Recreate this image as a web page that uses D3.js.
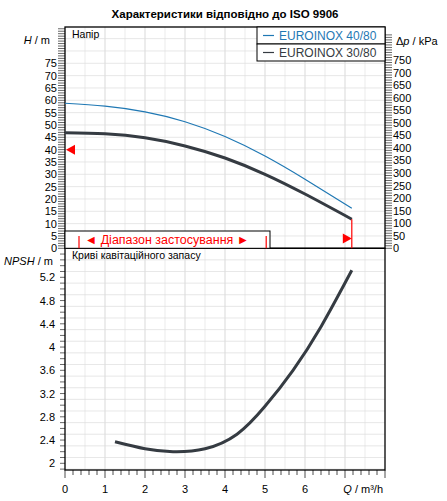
<!DOCTYPE html>
<html><head><meta charset="utf-8">
<script src="https://cdn.jsdelivr.net/npm/d3@7"></script>
<style>body{margin:0;background:#fff}text{font-family:Arial,"Liberation Sans",sans-serif}</style>
</head><body><div id="chart"></div>
<script>
// Curve data
const q40 = [0, 1, 2, 3, 4, 5, 6, 7.17];
const h40 = [58.8, 57.6, 55.3, 51.3, 45.3, 37.4, 28, 16.2];
const q30 = [0, 1, 2, 3, 4, 5, 6, 7.17];
const h30 = [46.8, 46.4, 44.8, 41.5, 36.6, 30, 22, 11.8];
const qNpsh = [1.25, 2, 2.7, 3.5, 4.3, 5, 5.7, 6.4, 7.17];
const npsh = [2.37, 2.25, 2.2, 2.25, 2.5, 2.98, 3.6, 4.35, 5.32];
const seriesNames = ["EUROINOX 40/80", "EUROINOX 30/80"];
const qTicks = [0, 1, 2, 3, 4, 5, 6];
const hTicks = d3.range(0, 80, 5);
const pTicks = d3.range(0, 800, 50);
const npshTicks = [2, 2.4, 2.8, 3.2, 3.6, 4, 4.4, 4.8, 5.2];
const qMax = 7.17;

const W = 447, Hh = 501;
const svg = d3.select("#chart").append("svg").attr("width", W).attr("height", Hh);

const x = d3.scaleLinear().domain([0, 8]).range([65, 385]);
const yH = d3.scaleLinear().domain([0, 75]).range([248.3, 63.3]);
const yP = d3.scaleLinear().domain([0, 750]).range([248.3, 60]);
const yN = d3.scaleLinear().domain([2, 5.2]).range([463.3, 277.3]);
const top1 = 27, bot1 = 248.3, bot2 = 470;

svg.append("text").attr("x", 225).attr("y", 18).attr("text-anchor", "middle")
  .attr("font-weight", "bold").attr("font-size", 11.5).text("Характеристики відповідно до ISO 9906");

// grid
const g = svg.append("g").attr("stroke", "#ddd").attr("stroke-width", 0.7);
d3.range(0.5, 8, 0.5).forEach(v => g.append("line").attr("x1", x(v)).attr("x2", x(v)).attr("y1", top1).attr("y2", bot2)
  .attr("stroke", v % 1 === 0 ? "#c8c8c8" : "#e2e2e2"));
d3.range(5, 90, 5).forEach(v => { if (yH(v) > top1) g.append("line").attr("x1", 65).attr("x2", 385).attr("y1", yH(v)).attr("y2", yH(v)); });
d3.range(1.9, 5.7, 0.2).forEach(v => { const yy = yN(v); if (yy > bot1 + 1 && yy < bot2) g.append("line").attr("x1", 65).attr("x2", 385).attr("y1", yy).attr("y2", yy); });

// frames
svg.append("rect").attr("x", 65).attr("y", top1).attr("width", 320).attr("height", bot1 - top1).attr("fill", "none").attr("stroke", "#000").attr("stroke-width", 1.3);
svg.append("rect").attr("x", 65).attr("y", bot1).attr("width", 320).attr("height", bot2 - bot1).attr("fill", "none").attr("stroke", "#000").attr("stroke-width", 1.3);

// left H axis
const ax = svg.append("g");
d3.range(0, 90, 1).forEach(v => { const yy = yH(v); if (yy >= top1) ax.append("line").attr("x1", 58).attr("x2", 65).attr("y1", yy).attr("y2", yy).attr("stroke", "#000").attr("stroke-width", 0.6); });
hTicks.forEach(v => ax.append("text").attr("x", 57).attr("y", yH(v) + 4).attr("text-anchor", "end").attr("font-size", 11).text(v));
ax.append("text").attr("x", 50).attr("y", 44).attr("text-anchor", "end").attr("font-size", 11).html('<tspan font-style="italic">H</tspan> / m');
// right kPa axis
d3.range(0, 860, 10).forEach(v => { const yy = yP(v); if (yy >= top1) ax.append("line").attr("x1", 385).attr("x2", 392).attr("y1", yy).attr("y2", yy).attr("stroke", "#000").attr("stroke-width", 0.6); });
pTicks.forEach(v => ax.append("text").attr("x", 393).attr("y", yP(v) + 4).attr("font-size", 11).text(v));
ax.append("text").attr("x", 396).attr("y", 45).attr("font-size", 11).html('Δ<tspan font-style="italic">p</tspan> / kPa');
// NPSH axis
d3.range(1.9, 5.71, 0.1).forEach(v => { const yy = yN(v); if (yy > bot1 && yy < bot2) ax.append("line").attr("x1", 60).attr("x2", 65).attr("y1", yy).attr("y2", yy).attr("stroke", "#000").attr("stroke-width", 0.6); });
npshTicks.forEach(v => ax.append("text").attr("x", 55).attr("y", yN(v) + 4).attr("text-anchor", "end").attr("font-size", 11).text(v));
ax.append("text").attr("x", 53).attr("y", 265).attr("text-anchor", "end").attr("font-size", 11).html('<tspan font-style="italic">NPSH</tspan> / m');
// Q axis
d3.range(0, 8.01, 0.2).forEach(v => ax.append("line").attr("x1", x(v)).attr("x2", x(v)).attr("y1", bot2).attr("y2", bot2 + (Math.abs(v - Math.round(v)) < 0.01 ? 8 : 5)).attr("stroke", "#000").attr("stroke-width", 0.7));
qTicks.forEach(v => ax.append("text").attr("x", x(v)).attr("y", 493).attr("text-anchor", "middle").attr("font-size", 11).text(v));
ax.append("text").attr("x", 383).attr("y", 493).attr("text-anchor", "end").attr("font-size", 11).html('<tspan font-style="italic">Q</tspan> / m³/h');

svg.append("text").attr("x", 72).attr("y", 38).attr("font-size", 10.5).text("Напір");
svg.append("text").attr("x", 72).attr("y", 259).attr("font-size", 10.5).text("Криві кавітаційного запасу");

// curves
const line = d3.line().curve(d3.curveNatural);
svg.append("path").attr("d", line(q40.map((q, i) => [x(q), yH(h40[i])]))).attr("fill", "none").attr("stroke", "#1f78b4").attr("stroke-width", 1.2);
svg.append("path").attr("d", line(q30.map((q, i) => [x(q), yH(h30[i])]))).attr("fill", "none").attr("stroke", "#353b42").attr("stroke-width", 3);
svg.append("path").attr("d", line(qNpsh.map((q, i) => [x(q), yN(npsh[i])]))).attr("fill", "none").attr("stroke", "#353b42").attr("stroke-width", 3);

// legend
const lg = svg.append("g");
lg.append("rect").attr("x", 257).attr("y", top1).attr("width", 128).attr("height", 17).attr("fill", "#fff").attr("stroke", "#000");
lg.append("rect").attr("x", 257).attr("y", top1 + 17).attr("width", 128).attr("height", 17).attr("fill", "#fff").attr("stroke", "#000");
const lc = ["#1f78b4", "#353b42"];
seriesNames.forEach((n, i) => {
  const yy = top1 + 8.5 + i * 17;
  lg.append("line").attr("x1", 263).attr("x2", 274).attr("y1", yy).attr("y2", yy).attr("stroke", lc[i]).attr("stroke-width", 1.2);
  lg.append("text").attr("x", 279).attr("y", yy + 4.5).attr("font-size", 12).attr("fill", i === 0 ? "#1f78b4" : "#353b42").text(n);
});

// application range
const red = "#f00";
svg.append("rect").attr("x", 65).attr("y", 231).attr("width", 205).attr("height", bot1 - 231).attr("fill", "#fff").attr("stroke", "#000");
svg.append("line").attr("x1", x(0.35)).attr("x2", x(0.35)).attr("y1", 236).attr("y2", bot1).attr("stroke", red).attr("stroke-width", 1.2);
svg.append("line").attr("x1", x(5.03)).attr("x2", x(5.03)).attr("y1", 236).attr("y2", bot1).attr("stroke", red).attr("stroke-width", 1.2);
svg.append("text").attr("x", 167).attr("y", 244).attr("text-anchor", "middle").attr("font-size", 12.5).attr("fill", red).text("◄ Діапазон застосування ►");
// red markers
svg.append("path").attr("d", `M${x(0) + 1},${yH(40)}L${x(0) + 10},${yH(40) - 5}L${x(0) + 10},${yH(40) + 5}Z`).attr("fill", red);
svg.append("line").attr("x1", x(qMax)).attr("x2", x(qMax)).attr("y1", yH(11.8)).attr("y2", bot1).attr("stroke", red).attr("stroke-width", 1.2);
svg.append("path").attr("d", `M${x(qMax) - 9},${yH(4) - 5}L${x(qMax)},${yH(4)}L${x(qMax) - 9},${yH(4) + 5}Z`).attr("fill", red);
</script></body></html>
